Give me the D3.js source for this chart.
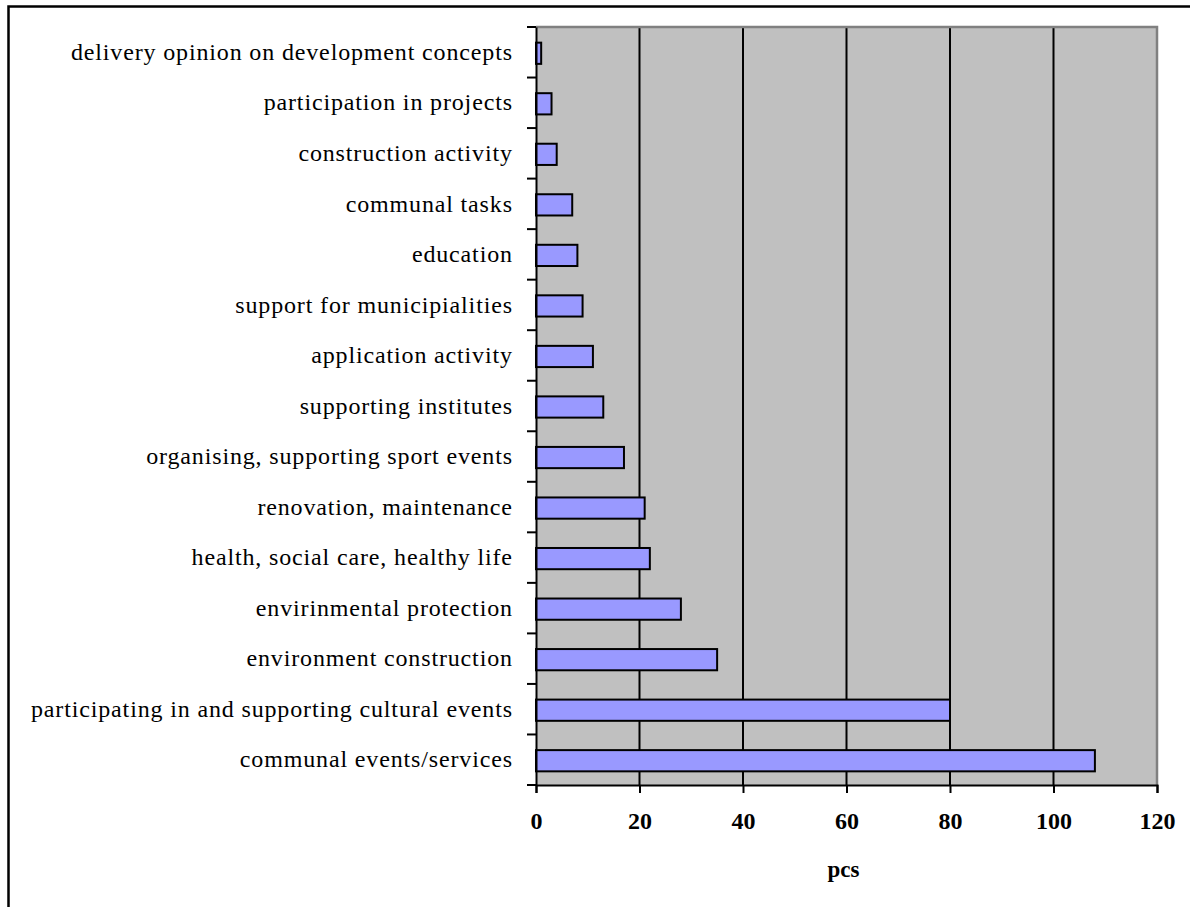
<!DOCTYPE html>
<html>
<head>
<meta charset="utf-8">
<script src="https://cdn.jsdelivr.net/npm/d3@7/dist/d3.min.js"></script>
<style>
  html, body { margin: 0; padding: 0; background: #fff; }
  svg { display: block; }
</style>
</head>
<body>
<svg id="chart" width="1190" height="907"></svg>
<script>
// Activity categories, listed top to bottom
const categories = [
  "delivery opinion on development concepts",
  "participation in projects",
  "construction activity",
  "communal tasks",
  "education",
  "support for municipialities",
  "application activity",
  "supporting institutes",
  "organising, supporting sport events",
  "renovation, maintenance",
  "health, social care, healthy life",
  "envirinmental protection",
  "environment construction",
  "participating in and supporting cultural events",
  "communal events/services"
];
// Number of activities per category (pcs)
const values = [1, 3, 4, 7, 8, 9, 11, 13, 17, 21, 22, 28, 35, 80, 108];
const xTicks = [0, 20, 40, 60, 80, 100, 120];
const xTitle = "pcs";

const svg = d3.select("#chart");
const W = 1190, H = 907;
const plot = { left: 536, top: 27, right: 1157, bottom: 785 };
const serif = "'Liberation Serif', 'Times New Roman', serif";

// Outer chart frame
svg.append("rect")
  .attr("x", 8.5).attr("y", 6.5)
  .attr("width", W + 20).attr("height", H + 20)
  .attr("fill", "#fff").attr("stroke", "#000").attr("stroke-width", 2.5);

const x = d3.scaleLinear().domain([0, 120]).range([plot.left, plot.right]);
const y = d3.scaleBand().domain(categories)
  .range([plot.top, plot.bottom])
  .paddingInner(0.58).paddingOuter(0.29);

// Plot area background
svg.append("rect")
  .attr("x", plot.left).attr("y", plot.top)
  .attr("width", plot.right - plot.left).attr("height", plot.bottom - plot.top)
  .attr("fill", "#C0C0C0");

// Vertical gridlines
svg.append("g").selectAll("line")
  .data(xTicks.filter(t => t > 0 && t < 120))
  .join("line")
  .attr("x1", d => x(d)).attr("x2", d => x(d))
  .attr("y1", plot.top).attr("y2", plot.bottom)
  .attr("stroke", "#000").attr("stroke-width", 2);

// Plot frame (top and right in grey)
svg.append("path")
  .attr("d", `M${plot.left},${plot.top}H${plot.right}V${plot.bottom}`)
  .attr("fill", "none").attr("stroke", "#808080").attr("stroke-width", 2.5);

// Bars
svg.append("g").selectAll("rect")
  .data(categories.map((c, i) => ({ c, v: values[i] })))
  .join("rect")
  .attr("x", x(0))
  .attr("y", d => y(d.c) + 1)
  .attr("width", d => x(d.v) - x(0))
  .attr("height", y.bandwidth())
  .attr("fill", "#9999FF")
  .attr("stroke", "#000").attr("stroke-width", 2);

// Category axis
const yAxis = d3.axisLeft(y).tickSize(0).tickPadding(24);
const gy = svg.append("g").attr("transform", `translate(${plot.left},0)`).call(yAxis);
gy.select(".domain").attr("stroke", "#000").attr("stroke-width", 2);
gy.selectAll("text")
  .attr("font-family", serif)
  .attr("font-size", 24)
  .attr("letter-spacing", "0.85px")
  .attr("dx", "0.85px")
  .attr("fill", "#000");

// Category boundary tick marks
const bounds = d3.range(categories.length + 1).map(i => plot.top + i * y.step());
svg.append("g").selectAll("line")
  .data(bounds)
  .join("line")
  .attr("x1", plot.left - 9).attr("x2", plot.left)
  .attr("y1", d => d).attr("y2", d => d)
  .attr("stroke", "#000").attr("stroke-width", 2);

// Value axis
const xAxis = d3.axisBottom(x).tickValues(xTicks).tickSize(8).tickPadding(19);
const gx = svg.append("g").attr("transform", `translate(0,${plot.bottom})`).call(xAxis);
gx.select(".domain").attr("stroke", "#000").attr("stroke-width", 2);
gx.selectAll(".tick line").attr("stroke", "#000").attr("stroke-width", 2);
gx.selectAll("text")
  .attr("font-family", serif)
  .attr("font-weight", "bold").attr("font-size", 24).attr("fill", "#000");

// Axis title
svg.append("text")
  .attr("x", (plot.left + plot.right) / 2 - 3)
  .attr("y", 877)
  .attr("text-anchor", "middle")
  .attr("font-family", serif)
  .attr("font-weight", "bold").attr("font-size", 23)
  .text(xTitle);
</script>
</body>
</html>
